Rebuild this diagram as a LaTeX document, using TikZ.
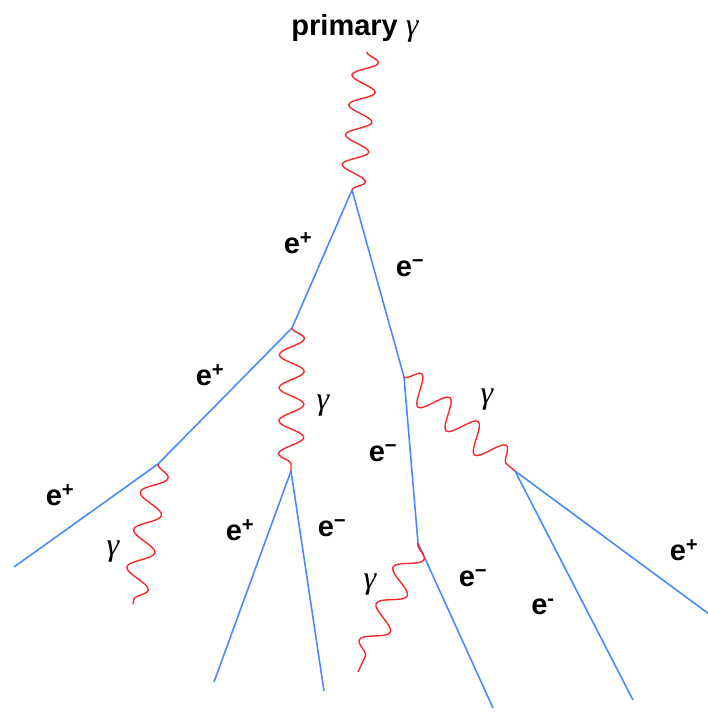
\documentclass[tikz,border=0pt]{standalone}
\usepackage{fontspec}
\setmainfont{Liberation Sans}
\newfontfamily\gfont{Liberation Serif}
\usetikzlibrary{decorations.pathmorphing}
\definecolor{eblue}{RGB}{70,140,250}
\definecolor{gred}{RGB}{250,40,40}
\tikzset{
  lepton/.style={draw=eblue, line width=1.6pt},
  photon/.style={draw=gred, line width=1.4pt, decorate,
    decoration={snake, amplitude=12.5pt, segment length=32pt, post length=0pt, pre length=0pt}},
  lbl/.style={font=\fontsize{29}{31}\selectfont\bfseries, inner sep=0pt}
}
\newcommand{\gam}{{\gfont\itshape\mdseries\fontsize{32}{34}\selectfont γ}}
\begin{document}
\begin{tikzpicture}[x=1pt,y=-1pt]
\useasboundingbox (0,0) rectangle (707,712);
% vertices
\coordinate (top) at (367,52);
\coordinate (A) at (352,190);
\coordinate (B) at (292,328);
\coordinate (C) at (404,377);
\coordinate (D) at (158,464);
\coordinate (E) at (291,471);
\coordinate (F) at (418,543);
\coordinate (G) at (515,471);
% ends
\coordinate (Dend) at (14,567);
\coordinate (Dg) at (133,604);
\coordinate (Ep) at (214,682);
\coordinate (Em) at (324,691);
\coordinate (Fm) at (493,708);
\coordinate (Fg) at (358,672);
\coordinate (Gm) at (633,700);
\coordinate (Gp) at (709,614);
% leptons
\draw[lepton] (A) -- (B);
\draw[lepton] (A) -- (C);
\draw[lepton] (B) -- (D);
\draw[lepton] (D) -- (Dend);
\draw[lepton] (E) -- (Ep);
\draw[lepton] (E) -- (Em);
\draw[lepton] (C) -- (F);
\draw[lepton] (F) -- (Fm);
\draw[lepton] (G) -- (Gm);
\draw[lepton] (G) -- (Gp);
% photons
\draw[photon, decoration={segment length=30pt}] (top) -- (A);
\draw[photon, decoration={segment length=33pt}] (B) -- (E);
\draw[photon, decoration={segment length=37pt, amplitude=14pt}] (C) -- (G);
\draw[photon, decoration={segment length=38pt}] (D) -- (Dg);
\draw[photon, decoration={segment length=40pt}] (F) -- (Fg);
% labels
\node[lbl] (lprim) at (355,28) {primary \gam};
\node[lbl] (l1) at (298,243) {e\textsuperscript{+}};
\node[lbl] (l2) at (410,268) {e\textsuperscript{\textminus}};
\node[lbl] (l3) at (210,375) {e\textsuperscript{+}};
\node[lbl] (l4) at (323,406) {\gam};
\node[lbl] (l5) at (487,400) {\gam};
\node[lbl] (l6) at (383,453) {e\textsuperscript{\textminus}};
\node[lbl] (l7) at (60,495) {e\textsuperscript{+}};
\node[lbl] (l8) at (113,552) {\gam};
\node[lbl] (l9) at (240,530) {e\textsuperscript{+}};
\node[lbl] (l10) at (332,528) {e\textsuperscript{\textminus}};
\node[lbl] (l11) at (370,585) {\gam};
\node[lbl] (l12) at (473,578) {e\textsuperscript{\textminus}};
\node[lbl] (l13) at (543,607) {e\textsuperscript{-}};
\node[lbl] (l14) at (684,550) {e\textsuperscript{+}};
\end{tikzpicture}
\end{document}
